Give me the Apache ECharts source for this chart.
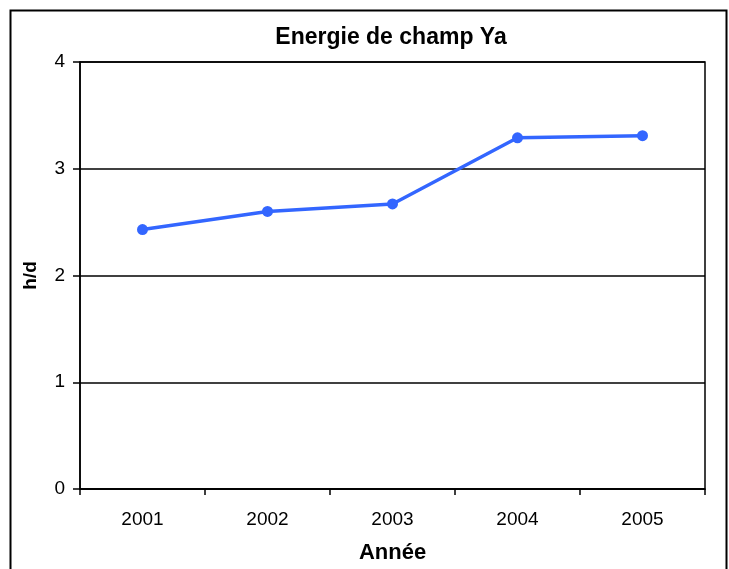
<!DOCTYPE html>
<html>
<head>
<meta charset="utf-8">
<script src="https://cdn.jsdelivr.net/npm/echarts@6/dist/echarts.min.js"></script>
<style>
  html, body { margin: 0; padding: 0; background: #fff; }
  #chart { width: 729px; height: 569px; }
</style>
</head>
<body>
<div id="chart"></div>
<script>
// Yearly field energy (h/d)
const years = ['2001', '2002', '2003', '2004', '2005'];
const energy = [2.43, 2.60, 2.67, 3.29, 3.31];
const yTicks = [0, 1, 2, 3, 4];

const chart = echarts.init(document.getElementById('chart'), null, { renderer: 'canvas' });
const font = 'Liberation Sans, Arial, sans-serif';

chart.setOption({
  animation: false,
  backgroundColor: '#fff',
  title: {
    text: 'Energie de champ Ya',
    left: 386, top: 21, textAlign: 'center',
    textStyle: { fontFamily: font, fontSize: 23, fontWeight: 'bold', color: '#000' }
  },
  grid: { left: 80, top: 62, right: 24, bottom: 80, show: true, borderColor: '#000', borderWidth: 1.5 },
  xAxis: {
    type: 'category', data: years, boundaryGap: true,
    name: 'Année', nameLocation: 'middle', nameGap: 53,
    nameTextStyle: { fontFamily: font, fontSize: 22, fontWeight: 'bold', color: '#000' },
    axisLine: { lineStyle: { color: '#000', width: 1.5 } },
    axisTick: { show: true, alignWithLabel: false, length: 6, lineStyle: { color: '#000', width: 1.5 } },
    axisLabel: { fontFamily: font, fontSize: 19, color: '#000', margin: 21 }
  },
  yAxis: {
    type: 'value', min: yTicks[0], max: yTicks[yTicks.length - 1], interval: 1,
    name: 'h/d', nameLocation: 'middle', nameGap: 40, nameRotate: 90,
    nameTextStyle: { fontFamily: font, fontSize: 19, fontWeight: 'bold', color: '#000' },
    axisLine: { show: true, lineStyle: { color: '#000', width: 1.5 } },
    axisTick: { show: true, length: 7, lineStyle: { color: '#000', width: 1.5 } },
    axisLabel: { fontFamily: font, fontSize: 19, color: '#000', margin: 15 },
    splitLine: { show: true, lineStyle: { color: '#000', width: 1.5 } }
  },
  series: [{
    type: 'line', data: energy,
    symbol: 'circle', symbolSize: 11,
    lineStyle: { color: '#3366FF', width: 3.5 },
    itemStyle: { color: '#3366FF' }
  }],
  graphic: [{
    type: 'rect', silent: true,
    shape: { x: 10.5, y: 10.5, width: 716, height: 570 },
    style: { fill: 'none', stroke: '#000', lineWidth: 2 }
  }]
});
</script>
</body>
</html>
